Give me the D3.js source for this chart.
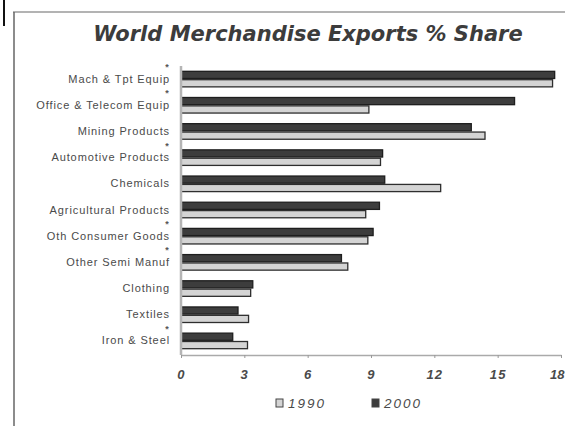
<!DOCTYPE html>
<html>
<head>
<meta charset="utf-8">
<script src="https://cdn.jsdelivr.net/npm/d3@7"></script>
<style>
  html, body { margin: 0; padding: 0; background: #fff; }
  svg { display: block; }
</style>
</head>
<body>
<svg id="chart" width="565" height="426"></svg>
<script>
// Categories, top to bottom
const categories = [
  "Mach & Tpt Equip", "Office & Telecom Equip", "Mining Products",
  "Automotive Products", "Chemicals", "Agricultural Products",
  "Oth Consumer Goods", "Other Semi Manuf", "Clothing", "Textiles", "Iron & Steel"
];
// Categories flagged with an asterisk
const flagged = [
  "Mach & Tpt Equip", "Office & Telecom Equip", "Automotive Products",
  "Oth Consumer Goods", "Other Semi Manuf", "Iron & Steel"
];
// % share of world merchandise exports
const share1990 = [17.6, 8.9, 14.4, 9.45, 12.3, 8.75, 8.85, 7.9, 3.3, 3.2, 3.15];
const share2000 = [17.7, 15.8, 13.75, 9.55, 9.65, 9.4, 9.1, 7.6, 3.4, 2.7, 2.45];
const years = ["2000", "1990"];
const xTicks = [0, 3, 6, 9, 12, 15, 18];

const svg = d3.select("#chart");
const W = 565, H = 426;
svg.append("rect").attr("width", W).attr("height", H).attr("fill", "#fff");

// Page frame
svg.append("line").attr("x1", 13).attr("y1", 12).attr("x2", W).attr("y2", 12)
  .attr("stroke", "#9a9a9a").attr("stroke-width", 1.5);
svg.append("line").attr("x1", 14).attr("y1", 12).attr("x2", 14).attr("y2", H)
  .attr("stroke", "#666").attr("stroke-width", 1.5);
svg.append("line").attr("x1", 4).attr("y1", 0).attr("x2", 4).attr("y2", 26)
  .attr("stroke", "#111").attr("stroke-width", 2);

// Title
svg.append("text")
  .attr("x", 308).attr("y", 41)
  .attr("text-anchor", "middle")
  .attr("font-family", "'DejaVu Sans', Verdana, sans-serif")
  .attr("font-weight", "bold").attr("font-style", "italic")
  .attr("font-size", 21).attr("fill", "#3c3c3c")
  .text("World Merchandise Exports % Share");

const x = d3.scaleLinear().domain([0, 18]).range([181, 561]);
const y = d3.scaleBand().domain(categories).range([66, 354])
  .paddingInner(0.36).paddingOuter(0.18);
const ySub = d3.scaleBand().domain(years).range([0, y.bandwidth()]);

const rows = categories.map((c, i) => ({ cat: c, "1990": share1990[i], "2000": share2000[i] }));

const style = {
  "2000": { fill: "#3d3d3d", stroke: "#1e1e1e" },
  "1990": { fill: "#d4d4d4", stroke: "#2e2e2e" }
};

// Bars
const groups = svg.append("g").selectAll("g").data(rows).join("g")
  .attr("transform", d => `translate(0,${y(d.cat)})`);
groups.selectAll("rect")
  .data(d => years.map(k => ({ key: k, value: d[k] })))
  .join("rect")
  .attr("x", x(0))
  .attr("y", d => ySub(d.key) + 0.6)
  .attr("width", d => x(d.value) - x(0))
  .attr("height", ySub.bandwidth() - 1.2)
  .attr("fill", d => style[d.key].fill)
  .attr("stroke", d => style[d.key].stroke)
  .attr("stroke-width", 1.3);

// Value axis
const xAxis = d3.axisBottom(x).tickValues(xTicks).tickSize(3).tickSizeOuter(0);
const gx = svg.append("g").attr("transform", "translate(0,355)").call(xAxis);
gx.select(".domain").attr("stroke", "#aaa").attr("stroke-width", 1.6);
gx.selectAll(".tick line").attr("stroke", "#999");
gx.selectAll(".tick text")
  .attr("y", 15)
  .attr("font-family", "'Liberation Sans', Arial, sans-serif")
  .attr("font-style", "italic").attr("font-weight", "bold")
  .attr("font-size", 13).attr("letter-spacing", 1.2).attr("fill", "#4a4a4a");
// keep the last label inside the page edge
gx.selectAll(".tick text").filter(d => d === 18)
  .attr("text-anchor", "end").attr("letter-spacing", 0)
  .attr("dx", W - 1 - x(18));

// Category axis
const yAxis = d3.axisLeft(y).tickSize(0).tickPadding(11);
const gy = svg.append("g").attr("transform", `translate(${x(0)},0)`).call(yAxis);
gy.select(".domain").attr("stroke", "#b5b5b5").attr("stroke-width", 2.5)
  .attr("d", `M0,66V355`);
gy.selectAll(".tick text")
  .attr("font-family", "'Liberation Sans', Arial, sans-serif")
  .attr("font-size", 11).attr("letter-spacing", 0.9).attr("fill", "#4a4a4a");

// Asterisk markers above the flagged labels
svg.append("g").selectAll("text").data(flagged).join("text")
  .attr("x", x(0) - 14)
  .attr("y", d => y(d) - 0.5)
  .attr("text-anchor", "middle")
  .attr("font-family", "'Liberation Sans', Arial, sans-serif")
  .attr("font-weight", "bold")
  .attr("font-size", 9).attr("fill", "#555")
  .text("*");

// Legend
const legend = svg.append("g").attr("transform", "translate(0,408)");
const legendItems = [
  { key: "1990", x: 276 },
  { key: "2000", x: 372 }
];
legendItems.forEach(it => {
  legend.append("rect")
    .attr("x", it.x).attr("y", -9).attr("width", 7).attr("height", 8)
    .attr("fill", style[it.key].fill).attr("stroke", "#444").attr("stroke-width", 1);
  legend.append("text")
    .attr("x", it.x + 12).attr("y", 0)
    .attr("font-family", "'Liberation Sans', Arial, sans-serif")
    .attr("font-style", "italic")
    .attr("font-size", 13.5).attr("letter-spacing", 2).attr("fill", "#4a4a4a")
    .text(it.key);
});
</script>
</body>
</html>
